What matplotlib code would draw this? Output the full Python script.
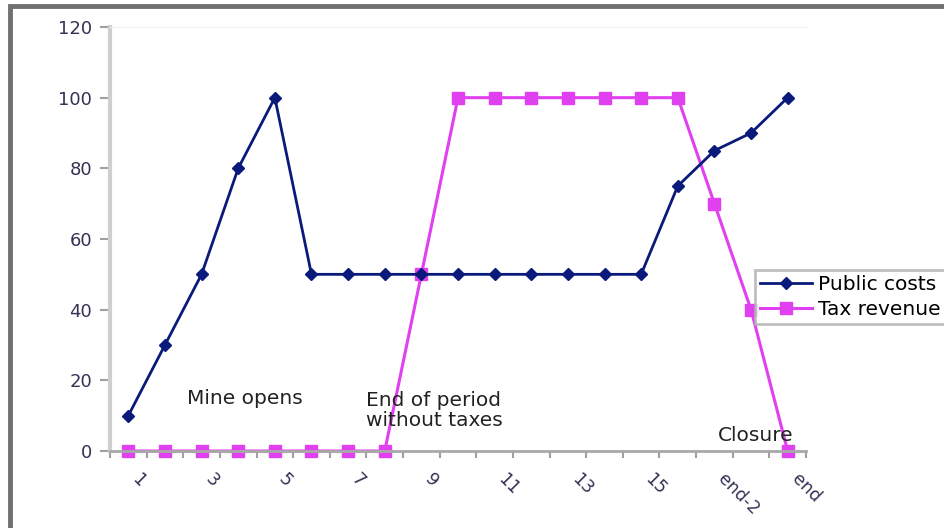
import matplotlib
matplotlib.use("Agg")
import matplotlib.pyplot as plt
from matplotlib.patches import Rectangle

# data
periods = [str(i) for i in range(1, 17)] + ["end-2", "end-1", "end"]
publicCosts = [10, 30, 50, 80, 100, 50, 50, 50, 50, 50, 50, 50, 50, 50, 50, 75, 85, 90, 100]
taxRevenue = [0, 0, 0, 0, 0, 0, 0, 0, 50, 100, 100, 100, 100, 100, 100, 100, 70, 40, 0]
yTicks = [0, 20, 40, 60, 80, 100, 120]

plt.rcParams['font.family'] = ['DejaVu Sans']

fig = plt.figure(figsize=(9.44, 5.28), dpi=100)
# outer chart frame (left and top edges only visible)
fig.patches.append(Rectangle((10/944, -0.1), 1.2, 1 - 6/528 + 0.1, transform=fig.transFigure,
                             fill=False, edgecolor='#707070', linewidth=3.5, zorder=0))

ax = fig.add_axes([110/944, 1 - 451/528, 696/944, 424/528])
x = list(range(len(periods)))
ax.plot(x, publicCosts, color='#0a1a7a', marker='D', markersize=6, linewidth=2, label='Public costs', clip_on=False, zorder=3)
ax.plot(x, taxRevenue, color='#e040f0', marker='s', markersize=9, linewidth=2.2, label='Tax revenue', clip_on=False, zorder=2)

ax.set_xlim(-0.5, len(periods) - 0.5)
ax.set_ylim(0, 120)
ax.set_yticks(yTicks)
ax.set_xticks(x[::2])
ax.set_xticklabels(periods[::2], rotation=-45, ha='left', va='top', fontsize=12.5, color='#333355')
ax.set_xticks([i - 0.5 for i in range(len(periods) + 1)], minor=True)
ax.tick_params(axis='x', which='major', length=0, pad=14)
ax.tick_params(axis='x', which='minor', length=5, width=1.5, color='#a0a0a0', direction='out')
ax.tick_params(axis='y', length=7, width=1.5, color='#a0a0a0', labelsize=13, labelcolor='#333355', pad=6)

ax.spines['right'].set_visible(False)
ax.spines['top'].set_color('#eeeeee')
ax.spines['left'].set_color('#cfcfcf')
ax.spines['left'].set_linewidth(3)
ax.spines['bottom'].set_color('#a8a8a8')
ax.spines['bottom'].set_linewidth(2)

ax.text(1.6, 15, 'Mine opens', fontsize=14.5, color='#222222', va='center')
ax.text(6.5, 11.5, 'End of period\nwithout taxes', fontsize=14.5, color='#222222', va='center', linespacing=1.05)
ax.text(16.1, 4.5, 'Closure', fontsize=14.5, color='#222222', va='center')

leg = ax.legend(loc='upper left', bbox_to_anchor=(645/696, 1 - 243/424), fontsize=14.5, frameon=True,
                fancybox=False, edgecolor='#b0b0b0', handlelength=2.6, borderpad=0.25, labelspacing=0.3,
                handletextpad=0.3, borderaxespad=0)
leg.get_frame().set_linewidth(2)

fig.savefig('out.png', dpi=100)
